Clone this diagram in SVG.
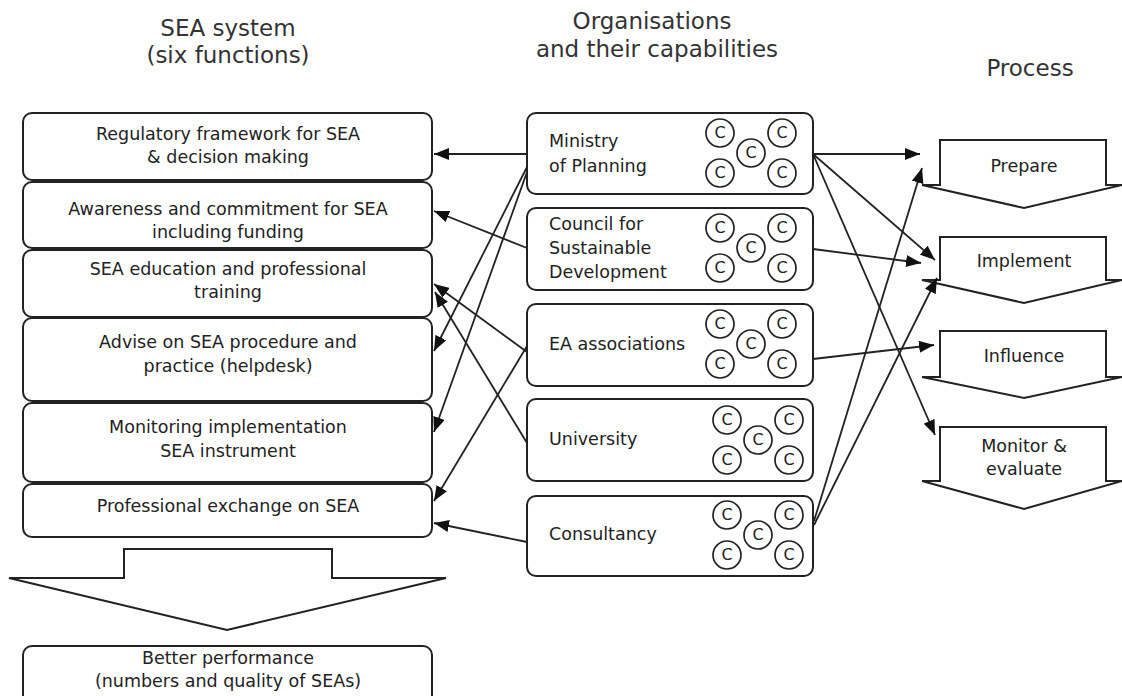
<svg xmlns="http://www.w3.org/2000/svg" width="1122" height="696" viewBox="0 0 1122 696">
<style>
text{font-family:"DejaVu Sans","Liberation Sans",sans-serif;fill:#222}
.h{font-size:23px;fill:#333;text-anchor:middle}
.t{font-size:17.5px;text-anchor:middle}
.m{font-size:17.5px}
.c{font-size:16px;text-anchor:middle}
.box{fill:#fff;stroke:#222;stroke-width:2}
.cap{fill:#fff;stroke:#222;stroke-width:1.7}
.con line{stroke:#222;stroke-width:1.8;marker-end:url(#ah)}
</style>
<defs>
<marker id="ah" markerUnits="userSpaceOnUse" markerWidth="16" markerHeight="12" refX="15" refY="6" orient="auto">
<path d="M0,0 L15,6 L0,12 z" fill="#111"/>
</marker>
<g id="caps">
<circle class="cap" cx="0" cy="0" r="14"/><text class="c" x="0" y="5">C</text>
<circle class="cap" cx="62" cy="0" r="14"/><text class="c" x="62" y="5">C</text>
<circle class="cap" cx="31" cy="20" r="14"/><text class="c" x="31" y="25">C</text>
<circle class="cap" cx="0" cy="40" r="14"/><text class="c" x="0" y="45">C</text>
<circle class="cap" cx="62" cy="40" r="14"/><text class="c" x="62" y="45">C</text>
</g>
</defs>
<rect width="1122" height="696" fill="#fff"/>

<g id="headers">
<text class="h" x="228" y="36">SEA system</text>
<text class="h" x="228" y="63">(six functions)</text>
<text class="h" x="652" y="29">Organisations</text>
<text class="h" x="657" y="57">and their capabilities</text>
<text class="h" x="1030" y="76">Process</text>
</g>

<g id="f1"><rect class="box" x="23" y="113" width="409" height="67" rx="9"/>
<text class="t" x="228" y="140">Regulatory framework for SEA</text><text class="t" x="228" y="163">&amp; decision making</text></g>
<g id="f2"><rect class="box" x="23" y="182" width="409" height="66" rx="9"/>
<text class="t" x="228" y="215">Awareness and commitment for SEA</text><text class="t" x="228" y="238">including funding</text></g>
<g id="f3"><rect class="box" x="23" y="250" width="409" height="67" rx="9"/>
<text class="t" x="228" y="275">SEA education and professional</text><text class="t" x="228" y="298">training</text></g>
<g id="f4"><rect class="box" x="23" y="318" width="409" height="83" rx="9"/>
<text class="t" x="228" y="348">Advise on SEA procedure and</text><text class="t" x="228" y="372">practice (helpdesk)</text></g>
<g id="f5"><rect class="box" x="23" y="403" width="409" height="79" rx="9"/>
<text class="t" x="228" y="433">Monitoring implementation</text><text class="t" x="228" y="457">SEA instrument</text></g>
<g id="f6"><rect class="box" x="23" y="484" width="409" height="53" rx="9"/>
<text class="t" x="228" y="512">Professional exchange on SEA</text></g>

<g id="bigarrow"><path class="box" d="M124,549 H332 V578 H446 L227,630 L9,578 H124 Z"/></g>
<g id="result"><rect class="box" x="23" y="646" width="409" height="60" rx="9"/>
<text class="t" x="228" y="664">Better performance</text><text class="t" x="228" y="687">(numbers and quality of SEAs)</text></g>

<g id="o1"><rect class="box" x="527" y="113" width="286" height="81" rx="9"/>
<text class="m" x="549" y="147">Ministry</text><text class="m" x="549" y="172">of Planning</text>
<use href="#caps" x="720" y="133"/></g>
<g id="o2"><rect class="box" x="527" y="208" width="286" height="82" rx="9"/>
<text class="m" x="549" y="230">Council for</text><text class="m" x="549" y="254">Sustainable</text><text class="m" x="549" y="278">Development</text>
<use href="#caps" x="720" y="228"/></g>
<g id="o3"><rect class="box" x="527" y="304" width="286" height="82" rx="9"/>
<text class="m" x="549" y="350">EA associations</text>
<use href="#caps" x="720" y="324"/></g>
<g id="o4"><rect class="box" x="527" y="399" width="286" height="82" rx="9"/>
<text class="m" x="549" y="445">University</text>
<use href="#caps" x="727" y="420"/></g>
<g id="o5"><rect class="box" x="527" y="496" width="286" height="80" rx="9"/>
<text class="m" x="549" y="540">Consultancy</text>
<use href="#caps" x="727" y="515"/></g>

<g id="p1"><path class="box" d="M940,140 H1106 V185 H1122 L1024,208 L922,185 H940 Z"/>
<text class="t" x="1024" y="172">Prepare</text></g>
<g id="p2"><path class="box" d="M940,237 H1106 V280 H1122 L1024,303 L922,280 H940 Z"/>
<text class="t" x="1024" y="267">Implement</text></g>
<g id="p3"><path class="box" d="M940,331 H1106 V377 H1122 L1024,398 L922,377 H940 Z"/>
<text class="t" x="1024" y="362">Influence</text></g>
<g id="p4"><path class="box" d="M940,427 H1106 V481 H1122 L1024,509 L922,481 H940 Z"/>
<text class="t" x="1024" y="452">Monitor &amp;</text><text class="t" x="1024" y="475">evaluate</text></g>

<g id="connectors" class="con">
<line x1="527" y1="154" x2="434" y2="154"/>
<line x1="527" y1="248" x2="434" y2="211"/>
<line x1="527" y1="167" x2="434" y2="351"/>
<line x1="527" y1="172" x2="434" y2="432"/>
<line x1="527" y1="352" x2="434" y2="284"/>
<line x1="527" y1="443" x2="435" y2="292"/>
<line x1="527" y1="346" x2="434" y2="501"/>
<line x1="527" y1="542" x2="434" y2="523"/>
<line x1="813" y1="154" x2="920" y2="154"/>
<line x1="813" y1="154" x2="935" y2="260"/>
<line x1="813" y1="154" x2="935" y2="435"/>
<line x1="813" y1="249" x2="921" y2="263"/>
<line x1="813" y1="359" x2="934" y2="345"/>
<line x1="814" y1="521" x2="922" y2="168"/>
<line x1="814" y1="525" x2="937" y2="278"/>
</g>
</svg>
